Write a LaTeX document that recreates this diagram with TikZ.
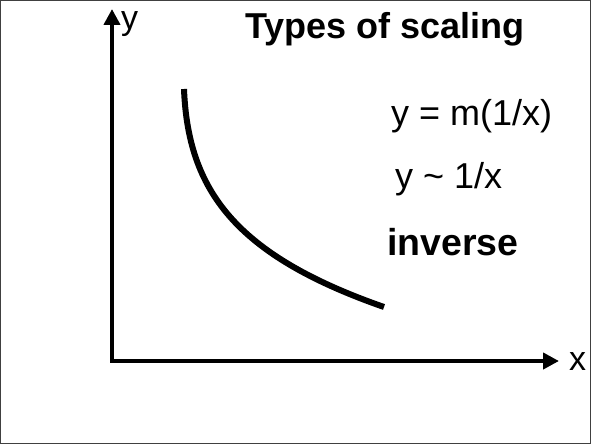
\documentclass[tikz,border=0pt]{standalone}
\usepackage{fontspec}
\setmainfont{Liberation Sans}
\usetikzlibrary{arrows.meta}

\begin{document}
\begin{tikzpicture}[x=1pt,y=-1pt,
    axis/.style={line width=4pt,{Triangle[length=16pt,width=16pt]}-{Triangle[length=16pt,width=16pt]}},
    lbl/.style={anchor=base west,inner sep=0pt,font=\fontsize{34}{40}\selectfont},
    ttl/.style={anchor=base west,inner sep=0pt,font=\fontsize{36}{40}\selectfont\bfseries}]
      \useasboundingbox (0,0) rectangle (591,444);
      \draw[line width=1.2pt,black!75] (0.6,0.6) rectangle (590.4,443.4);

      \coordinate (ytop) at (112,9);
      \coordinate (xend) at (559,361);
      \draw[axis] (ytop) |- (xend);

      \node[lbl] (ylab) at (121,30) {y};
      \node[lbl] (xlab) at (569,370) {x};

      \coordinate (cstart) at (184,89);
      \coordinate (cend) at (384,307);
      \draw[line width=6pt] (cstart) .. controls (188,190) and (235,255) .. (cend);

      \node[ttl] (title) at (245,39) {Types of scaling};
      \node[lbl,font=\fontsize{36}{40}\selectfont] (eqa) at (391,125) {y = m(1/x)};
      \node[lbl,font=\fontsize{36}{40}\selectfont] (eqb) at (395,188) {y \char`~\ 1/x};
      \node[ttl,font=\fontsize{37.5}{40}\selectfont\bfseries] (inv) at (387,255) {inverse};
    \end{tikzpicture}
\end{document}
